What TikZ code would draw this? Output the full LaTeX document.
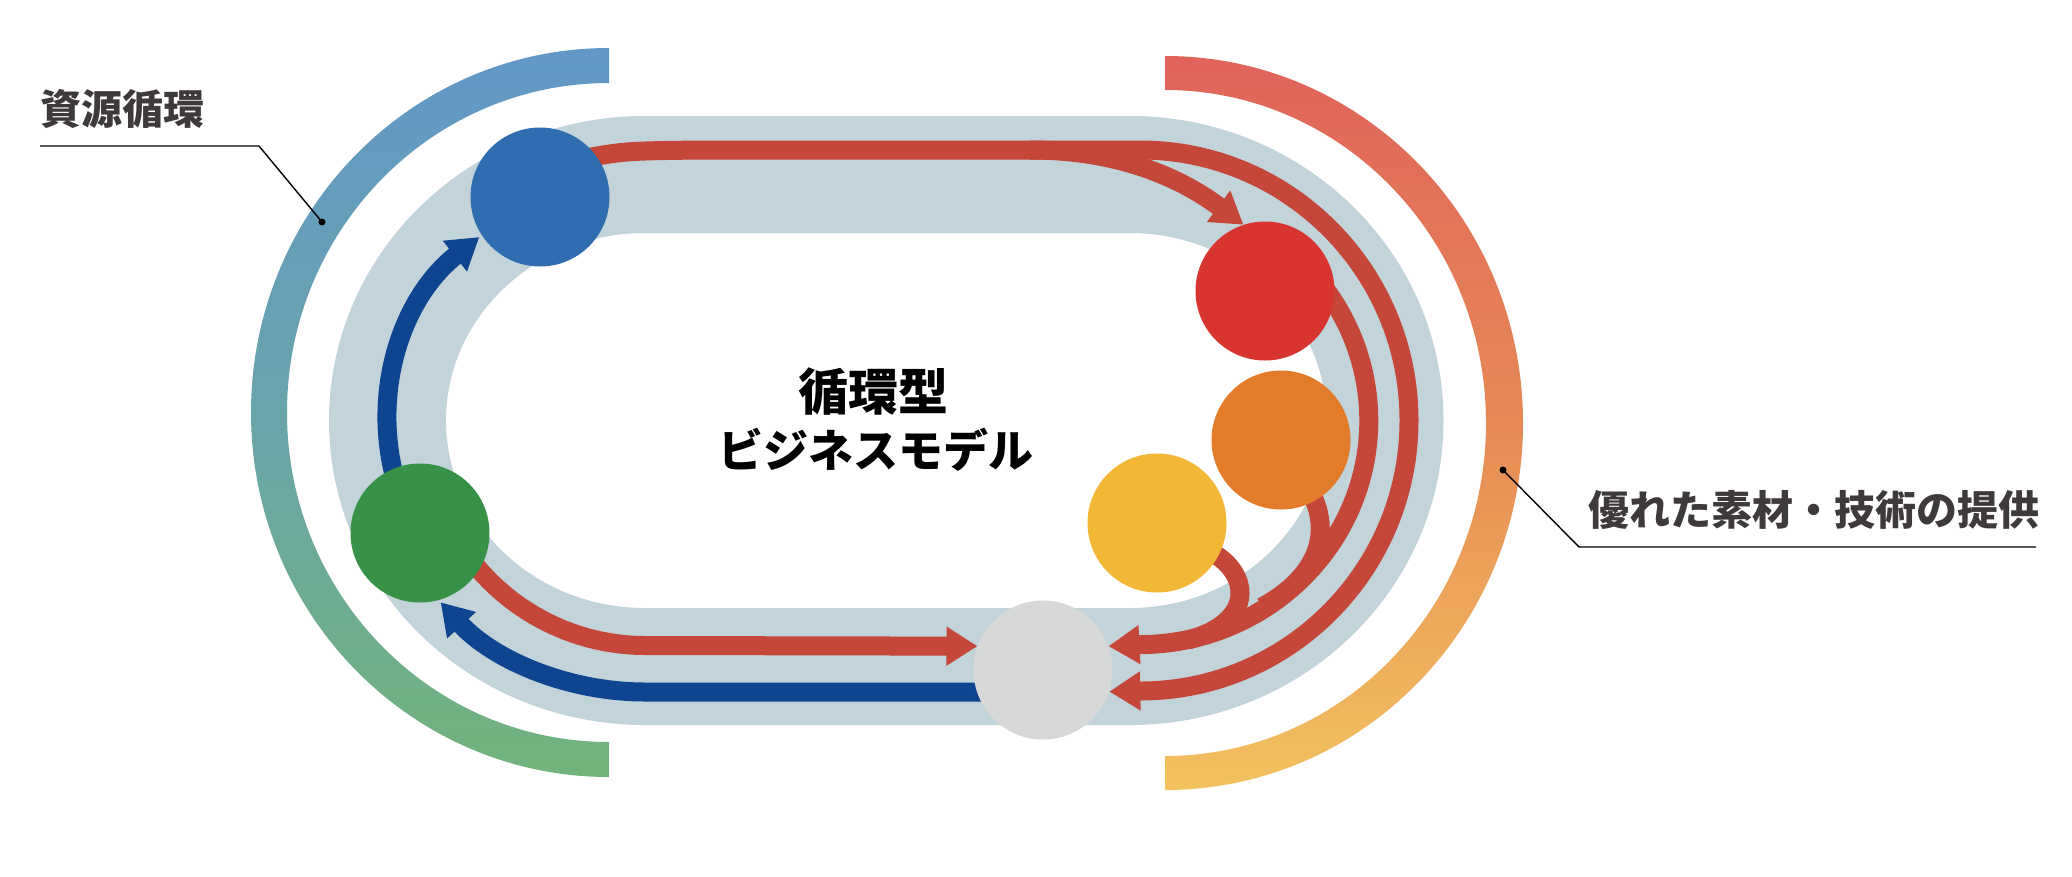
\documentclass[tikz,border=0pt]{standalone}
\usepackage{fontspec}
\setmainfont{Noto Sans CJK JP}
\usepackage{tikz}
\usetikzlibrary{positioning,arrows.meta}

\pgfdeclarelayer{bg}
\pgfsetlayers{bg,main}

\definecolor{trackc}{HTML}{C2D3DA}
\definecolor{redc}{HTML}{C4473A}
\definecolor{bluec}{HTML}{0F4490}
\definecolor{ballblue}{HTML}{2F6DB0}
\definecolor{ballred}{HTML}{D83530}
\definecolor{ballorange}{HTML}{E37C2A}
\definecolor{ballyellow}{HTML}{F3B736}
\definecolor{ballgray}{HTML}{D7D8D8}
\definecolor{ballgreen}{HTML}{379147}
\definecolor{lefttop}{HTML}{6297C7}
\definecolor{leftmid}{HTML}{6AA4AB}
\definecolor{leftbot}{HTML}{72B37B}
\definecolor{righttop}{HTML}{E0635B}
\definecolor{rightmid}{HTML}{E68A56}
\definecolor{rightbot}{HTML}{F3C25F}
\definecolor{labelc}{HTML}{3E3A39}

\begin{document}
\begin{tikzpicture}[x=1pt,y=-1pt,
  ball/.style={circle,inner sep=0pt,minimum size=139pt},
  track/.style={draw=trackc,line width=117pt},
  redln/.style={draw=redc,line width=19pt},
  redarr/.style={redln,-{Triangle[length=31pt,width=37pt]}},
  blueln/.style={draw=bluec,line width=19pt},
  bluearr/.style={blueln,-{Triangle[length=31pt,width=37pt]}},
  leader/.style={draw=black,line width=1.4pt},
  leaddot/.style={circle,fill=black,inner sep=0pt,minimum size=7pt},
  lbl/.style={inner sep=0pt,text=labelc,font=\fontsize{41pt}{41pt}\selectfont\bfseries}]
\useasboundingbox (0,0) rectangle (2072,876);

% the six stations
\node[ball,fill=ballblue] (bc) at (540,197) {};
\node[ball,fill=ballred] (rc) at (1265,291) {};
\node[ball,fill=ballorange] (oc) at (1281,440) {};
\node[ball,fill=ballyellow] (yc) at (1157,523) {};
\node[ball,fill=ballgray] (gc) at (1043,670) {};
\node[ball,fill=ballgreen] (gr) at (420,533) {};

% title in the middle
\node[inner sep=0pt,font=\fontsize{50pt}{50pt}\selectfont\bfseries] (ttl) at (873,392) {循環型};
\node[inner sep=0pt,font=\fontsize{45pt}{45pt}\selectfont\bfseries] (sub) at (876,450) {ビジネスモデル};

% side labels
\node[lbl,anchor=west] (t1) at (40,109) {資源循環};
\node[leaddot] (d1) at (322,222) {};
\draw[leader] (d1.center) -- (259,146) -- (40,146);
\node[lbl,anchor=west] (t2) at (1588,510) {優れた素材・技術の提供};
\node[leaddot] (d2) at (1503,470) {};
\draw[leader] (d2.center) -- (1579,547) -- (2036,547);

\begin{pgfonlayer}{bg}
\fill[white] (0,0) rectangle (2072,876);
% outer arcs
\path[top color=lefttop,bottom color=leftbot,middle color=leftmid]
  (609,48) arc[start angle=270,end angle=90,x radius=358,y radius=364.5]
  -- (609,742) arc[start angle=90,end angle=270,x radius=322,y radius=329.5] -- cycle;
\path[top color=righttop,bottom color=rightbot,middle color=rightmid]
  (1165,56) arc[start angle=-90,end angle=90,x radius=358,y radius=367]
  -- (1165,756) arc[start angle=90,end angle=-90,x radius=321,y radius=333] -- cycle;
% track
\draw[track] (645,174.5) -- (1130,174.5) arc[start angle=-90,end angle=90,x radius=255,y radius=246]
  -- (645,666.5) arc[start angle=90,end angle=270,x radius=257.5,y radius=246] -- cycle;

% red flows
\draw[redarr] ([shift={(40,-38)}]bc.center) .. controls (625,151) .. (700,150) -- (1140,150)
  arc[start angle=-90,end angle=90,x radius=269,y radius=270.5] -- (gc.-18);
\coordinate (jt) at (1030,150);
\draw[redarr] (jt) .. controls (1130,150) and (1190,185) .. (rc.108);
\draw[redarr] ([shift={(22,-42)}]rc.center) arc[start angle=-50,end angle=90,x radius=229,y radius=224] -- (gc.20);
\coordinate (jo) at (1262,607);
\draw[redln] ([shift={(14,30)}]oc.center) .. controls (1335,515) and (1330,570) .. (jo);
\coordinate (jy) at (1188,640);
\draw[redln] ([shift={(45,25)}]yc.center) .. controls (1248,565) and (1262,620) .. (jy);
\draw[redarr] ([shift={(33,0)}]gr.center) arc[start angle=150,end angle=90,x radius=222,y radius=225] -- (gc.160);

% blue flows
\draw[bluearr] ([shift={(0,22)}]gc.center) -- (645,692) arc[start angle=90,end angle=138,x radius=275,y radius=271];
\draw[bluearr] ([shift={(-17,-30)}]gr.center) arc[start angle=160,end angle=230,x radius=257,y radius=240];
\end{pgfonlayer}
\end{tikzpicture}
\end{document}
